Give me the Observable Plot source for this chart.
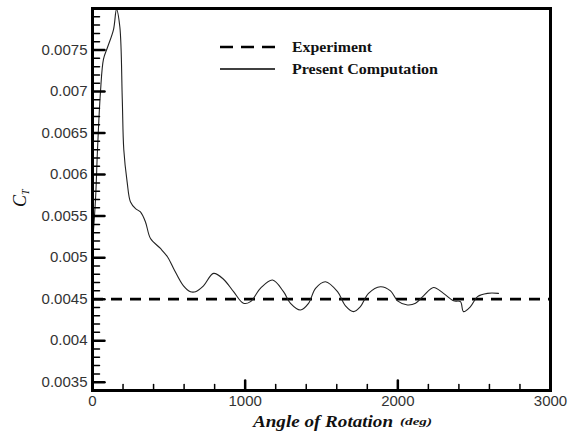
<!DOCTYPE html>
<html><head><meta charset="utf-8">
<script src="https://cdn.jsdelivr.net/npm/d3@7"></script>
<script src="https://cdn.jsdelivr.net/npm/@observablehq/plot@0.6"></script>
<style>
body{margin:0;background:#fff}
#wrap{position:relative;width:575px;height:434px}
.ov{position:absolute;overflow:visible;pointer-events:none}
</style>
</head><body><div id="wrap"><div id="chart"></div></div>
<script>
// Present computation: thrust coefficient vs angle of rotation (deg)
const angle = [0, 20, 33, 52, 72, 98, 138, 157, 179, 195, 205, 227, 249, 282, 314, 347, 380, 445, 491, 531, 596, 642, 675, 727, 793, 858, 924, 989, 1035, 1100, 1179, 1251, 1297, 1362, 1415, 1461, 1526, 1605, 1657, 1710, 1755, 1808, 1886, 1952, 1998, 2063, 2116, 2168, 2234, 2299, 2365, 2410, 2430, 2476, 2522, 2587, 2659];
const ct = [0.00517, 0.00571, 0.00631, 0.00699, 0.00739, 0.00753, 0.00775, 0.00799, 0.00778, 0.00691, 0.0063, 0.00591, 0.00567, 0.00559, 0.00555, 0.00543, 0.00523, 0.00511, 0.00501, 0.00487, 0.00466, 0.00459, 0.00459, 0.00466, 0.00481, 0.00474, 0.00459, 0.00445, 0.00447, 0.00463, 0.00473, 0.00459, 0.00445, 0.00437, 0.00445, 0.00463, 0.00471, 0.00459, 0.00442, 0.00435, 0.00441, 0.00457, 0.00465, 0.0046, 0.00448, 0.00443, 0.00445, 0.00454, 0.00464, 0.00457, 0.00448, 0.00447, 0.00435, 0.00441, 0.00453, 0.00457, 0.00457];
const experimentCT = 0.0045;
const xTicks = [0, 1000, 2000, 3000];
const yTicks = [0.0035, 0.004, 0.0045, 0.005, 0.0055, 0.006, 0.0065, 0.007, 0.0075];
const xMinorTicks = [200, 400, 600, 800, 1200, 1400, 1600, 1800, 2200, 2400, 2600, 2800];
const yMinorTicks = [0.0036, 0.0037, 0.0038, 0.0039, 0.0041, 0.0042, 0.0043, 0.0044, 0.0046, 0.0047, 0.0048, 0.0049, 0.0051, 0.0052, 0.0053, 0.0054, 0.0056, 0.0057, 0.0058, 0.0059, 0.0061, 0.0062, 0.0063, 0.0064, 0.0066, 0.0067, 0.0068, 0.0069, 0.0071, 0.0072, 0.0073, 0.0074, 0.0076, 0.0077, 0.0078, 0.0079];
const legendLabels = ["Experiment", "Present Computation"];
const xLabel = "Angle of Rotation";
const xUnit = "(deg)";
const xDomain = [0, 3000];
const yDomain = [0.0034, 0.008];

const W = 575, H = 434;
const mL = 92, mR = 25, mT = 8, mB = 44;
const pw = W - mL - mR, ph = H - mT - mB;
const data = angle.map((a, i) => ({angle: a, ct: ct[i]}));
const yPerPx = (yDomain[1] - yDomain[0]) / ph;
const xPerPx = (xDomain[1] - xDomain[0]) / pw;
// inward tick segments (length converted from pixels to data units)
const xSeg = (vals, len) => vals.flatMap((v, i) => [{x: v, y: yDomain[0], k: i}, {x: v, y: yDomain[0] + len * yPerPx, k: i}]);
const ySeg = (vals, len) => vals.flatMap((v, i) => [{x: xDomain[0], y: v, k: i}, {x: xDomain[0] + len * xPerPx, y: v, k: i}]);

const plot = Plot.plot({
  width: W, height: H,
  marginLeft: mL, marginRight: mR, marginTop: mT, marginBottom: mB,
  style: {fontFamily: "'Liberation Sans', Arial, sans-serif", fontSize: "15px", color: "#333", background: "#fff"},
  x: {domain: xDomain, ticks: xTicks, tickSize: 0, tickPadding: 5, label: null, tickFormat: d => String(d)},
  y: {domain: yDomain, ticks: yTicks, tickSize: 0, tickPadding: 5, label: null, tickFormat: d => String(+d.toFixed(4))},
  marks: [
    Plot.ruleY([experimentCT], {stroke: "#000", strokeWidth: 2.6, strokeDasharray: "11,8"}),
    Plot.line(data, {x: "angle", y: "ct", stroke: "#222", strokeWidth: 1.1, curve: "catmull-rom"}),
    Plot.line(xSeg(xMinorTicks, 6), {x: "x", y: "y", z: "k", stroke: "#000", strokeWidth: 1.5}),
    Plot.line(xSeg(xTicks, 10), {x: "x", y: "y", z: "k", stroke: "#000", strokeWidth: 2.5}),
    Plot.line(ySeg(yMinorTicks, 7), {x: "x", y: "y", z: "k", stroke: "#000", strokeWidth: 1.5}),
    Plot.line(ySeg(yTicks, 12), {x: "x", y: "y", z: "k", stroke: "#000", strokeWidth: 2.5}),
    Plot.frame({stroke: "#000", strokeWidth: 3})
  ]
});
document.getElementById("chart").append(plot);

const wrap = d3.select("#wrap");
const serif = "'Liberation Serif', 'Times New Roman', serif";
// legend (separate overlay svg, top middle)
const lg = wrap.append("svg").attr("class", "ov").style("left", "215px").style("top", "35px").attr("width", 235).attr("height", 46);
lg.append("line").attr("x1", 5).attr("x2", 60).attr("y1", 12).attr("y2", 12).attr("stroke", "#000").attr("stroke-width", 2.6).attr("stroke-dasharray", "13,8");
lg.append("line").attr("x1", 5).attr("x2", 60).attr("y1", 34).attr("y2", 34).attr("stroke", "#000").attr("stroke-width", 1.6);
const lt = lg.append("g").attr("font-family", serif).attr("font-weight", "bold").attr("font-size", 14.5).attr("fill", "#111");
lt.append("text").attr("x", 77).attr("y", 17).attr("textLength", 80).attr("lengthAdjust", "spacingAndGlyphs").text(legendLabels[0]);
lt.append("text").attr("x", 77).attr("y", 39).attr("textLength", 146).attr("lengthAdjust", "spacingAndGlyphs").text(legendLabels[1]);
// x axis label
const xl = wrap.append("svg").attr("class", "ov").style("left", "250px").style("top", "410px").attr("width", 200).attr("height", 24);
const xg = xl.append("g").attr("font-family", serif).attr("font-style", "italic").attr("font-weight", "bold").attr("fill", "#111");
xg.append("text").attr("x", 3).attr("y", 17).attr("font-size", 17).attr("textLength", 140).attr("lengthAdjust", "spacingAndGlyphs").text(xLabel);
xg.append("text").attr("x", 150).attr("y", 15).attr("font-size", 11).attr("textLength", 32).attr("lengthAdjust", "spacingAndGlyphs").text(xUnit);
// y axis label
const yls = wrap.append("svg").attr("class", "ov").style("left", "6px").style("top", "178px").attr("width", 28).attr("height", 34);
const yl = yls.append("text").attr("transform", "translate(20,29) rotate(-90)").attr("font-family", serif).attr("font-style", "italic").attr("font-size", 18).attr("fill", "#111");
yl.append("tspan").text("C");
yl.append("tspan").attr("font-size", 10).attr("dy", 3).text("T");
</script></body></html>
